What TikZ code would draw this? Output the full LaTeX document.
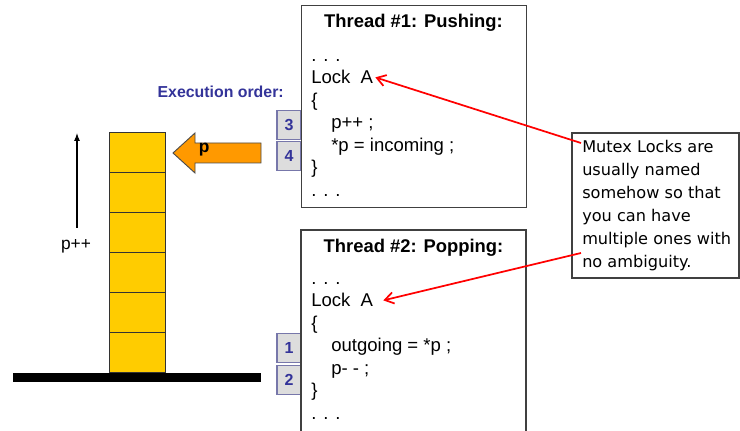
\documentclass[tikz,border=0pt]{standalone}
\usepackage{fontspec}
\setmainfont{Liberation Sans}
\newfontfamily\notefont{DejaVu Sans}
\usetikzlibrary{arrows.meta}
\definecolor{execblue}{HTML}{333399}
\definecolor{numfill}{HTML}{DDDDDD}
\definecolor{numedge}{HTML}{7777AA}
\definecolor{cellfill}{HTML}{FFCC00}
\definecolor{ptrfill}{HTML}{FF9900}
\definecolor{boxedge}{HTML}{404040}
\begin{document}
\begin{tikzpicture}[x=0.75pt, y=-0.75pt,
  code/.style={anchor=base west, inner sep=0pt, font=\fontsize{13.9}{16}\selectfont},
  title/.style={anchor=base, inner sep=0pt, font=\bfseries\fontsize{13.8}{16}\selectfont},
  numbox/.style={draw=numedge, fill=numfill, line width=0.8pt, minimum width=18pt,
    minimum height=21.75pt, inner sep=0pt, text=execblue, font=\bfseries\fontsize{12}{14}\selectfont},
  cell/.style={draw=black!80, fill=cellfill, line width=0.75pt, minimum width=42pt,
    minimum height=30pt, inner sep=0pt},
  threadbox/.style={draw=boxedge, line width=1.1pt},
  pointer/.style={draw=red, line width=1.3pt, -{Straight Barb[length=6.5pt, width=8.5pt]}}
]
\useasboundingbox (0,0) rectangle (740,431);

% ---- the stack and its base ----
\node[fill=black, minimum width=186pt, minimum height=6.75pt, inner sep=0pt] (ground) at (137,377.5) {};
\foreach \i/\yy in {1/353, 2/313, 3/273, 4/233, 5/193, 6/153}
  \node[cell] (cell\i) at (137,\yy) {};

% ---- growth direction of p ----
\node[inner sep=0pt, font=\fontsize{13}{15}\selectfont] (pinc) at (76,246) {p++};
\coordinate (upfrom) at (77,228);
\coordinate (upto) at (77,133);
\draw[line width=0.8pt, -{Latex[length=6pt, width=4.5pt]}] (upfrom) -- (upto);

% ---- pointer p ----
\draw[draw=black!70, fill=ptrfill, line width=0.7pt]
  (173,153) -- (195,133) -- (195,143) -- (261,143) -- (261,163) -- (195,163) -- (195,173) -- cycle;
\node[anchor=west, inner sep=0pt, font=\bfseries\fontsize{13}{15}\selectfont] (plabel) at (198.5,150) {p};

% ---- execution order ----
\node[anchor=base east, inner sep=0pt, text=execblue, font=\bfseries\fontsize{11.9}{14}\selectfont]
  (exec) at (284,98) {Execution order:};
\node[numbox] (num3) at (289,125) {3};
\node[numbox] (num4) at (289,156) {4};
\node[numbox] (num1) at (289,348) {1};
\node[numbox] (num2) at (289,380) {2};

% ---- thread 1: pushing ----
\node[threadbox, anchor=north west, inner sep=0pt, minimum width=168.75pt, minimum height=151.5pt]
  (thread1) at (301,5) {};
\node[title] (title1) at (413.5,28) {Thread \#1: Pushing:};
\node[code] (a1) at (311,61.5) {. . .};
\node[code] (lockA1) at (311,84) {Lock\ \ A};
\node[code] (a3) at (311,106.5) {\{};
\node[code] (a4) at (331,129) {p++ ;};
\node[code] (a5) at (331,151.5) {*p = incoming ;};
\node[code] (a6) at (311,174) {\}};
\node[code] (a7) at (311,196.5) {. . .};

% ---- thread 2: popping (box runs past the lower edge) ----
\draw[threadbox] (301,432) -- (301,230) -- (526,230) -- (526,432);
\node[title] (title2) at (413.5,253) {Thread \#2: Popping:};
\node[code] (b1) at (311,284.5) {. . .};
\node[code] (lockA2) at (311,307) {Lock\ \ A};
\node[code] (b3) at (311,329.5) {\{};
\node[code] (b4) at (331,352) {outgoing = *p ;};
\node[code] (b5) at (331,374.5) {p- - ;};
\node[code] (b6) at (311,397) {\}};
\node[code] (b7) at (311,419.5) {. . .};

% ---- note on lock names ----
\node[draw=boxedge, line width=1pt, minimum width=125.25pt, minimum height=108.75pt, inner sep=0pt]
  (note) at (655.5,205.5) {};
\node[anchor=west, align=left, inner sep=0pt, font=\notefont\fontsize{12.1}{17.25}\selectfont]
  (notetext) at (582,205.5)
  {Mutex Locks are\\usually named\\somehow so that\\you can have\\multiple ones with\\no ambiguity.};
\coordinate (from1) at (581,143);
\coordinate (from2) at (581,253);
\draw[pointer] (from1) -- ([xshift=1.5pt]lockA1.east);
\draw[pointer] (from2) -- ([xshift=7.5pt]lockA2.east);
\end{tikzpicture}
\end{document}
